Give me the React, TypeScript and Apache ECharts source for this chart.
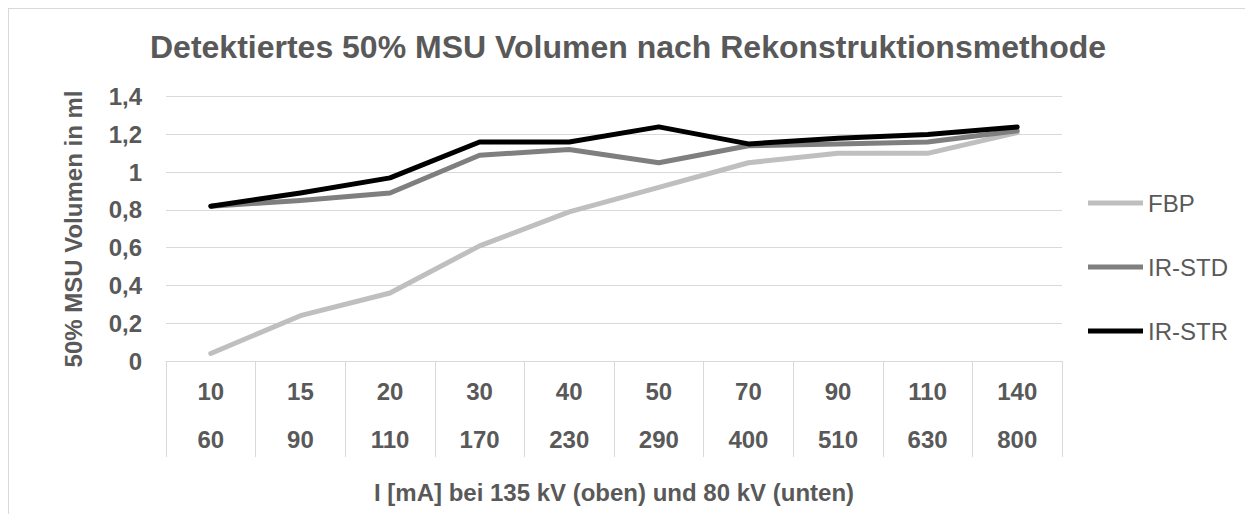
import React, { useEffect, useRef } from "react";
import * as echarts from "echarts";

const categoriesTop = ["10", "15", "20", "30", "40", "50", "70", "90", "110", "140"];
const categoriesBottom = ["60", "90", "110", "170", "230", "290", "400", "510", "630", "800"];
const fbp = [0.04, 0.24, 0.36, 0.61, 0.79, 0.92, 1.05, 1.1, 1.1, 1.21];
const irStd = [0.82, 0.85, 0.89, 1.09, 1.12, 1.05, 1.14, 1.15, 1.16, 1.22];
const irStr = [0.82, 0.89, 0.97, 1.16, 1.16, 1.24, 1.15, 1.18, 1.2, 1.24];
const seriesNames = ["FBP", "IR-STD", "IR-STR"];
const seriesColors = ["#BFBFBF", "#7F7F7F", "#000000"];

const titleText = "Detektiertes 50% MSU Volumen nach Rekonstruktionsmethode";
const yTitle = "50% MSU Volumen in ml";
const xTitle = "I [mA] bei 135 kV (oben) und 80 kV (unten)";

const FONT = "'Liberation Sans', Arial, Helvetica, sans-serif";
const TXT = "#595959";
const GRID = "#D9D9D9";

export default function App() {
  const ref = useRef<HTMLDivElement>(null);
  useEffect(() => {
    if (!ref.current) return;
    const chart = echarts.init(ref.current, undefined, { renderer: "svg" });
    const cats = categoriesTop.map((c, i) => c + "\n" + categoriesBottom[i]);
    const values = [fbp, irStd, irStr];
    chart.setOption({
      animation: false,
      textStyle: { fontFamily: FONT },
      grid: { left: 157, right: 183, top: 87.7, bottom: 153, containLabel: false },
      legend: {
        orient: "vertical",
        left: 1074,
        top: 177,
        icon: "rect",
        itemWidth: 55,
        itemHeight: 5,
        itemGap: 40,
        textStyle: { fontFamily: FONT, fontSize: 24, color: TXT },
        data: seriesNames,
      },
      xAxis: {
        type: "category",
        data: cats,
        boundaryGap: true,
        axisLine: { show: true, lineStyle: { color: GRID, width: 1 } },
        axisTick: { show: true, length: 96, interval: 0, lineStyle: { color: GRID, width: 1 } },
        axisLabel: {
          interval: 0,
          margin: 7,
          fontFamily: FONT,
          fontSize: 24,
          fontWeight: "bold",
          color: TXT,
          lineHeight: 47.5,
        },
        splitLine: { show: false },
      },
      yAxis: {
        type: "value",
        min: 0,
        max: 1.4,
        interval: 0.2,
        axisLine: { show: false },
        axisTick: { show: false },
        axisLabel: {
          margin: 24,
          fontFamily: FONT,
          fontSize: 24,
          fontWeight: "bold",
          color: TXT,
          formatter: (v: number) => String(Math.round(v * 10) / 10).replace(".", ","),
        },
        splitLine: { show: true, lineStyle: { color: GRID, width: 1 } },
      },
      series: values.map((d, i) => ({
        name: seriesNames[i],
        type: "line",
        data: d,
        symbol: "none",
        showSymbol: false,
        itemStyle: { color: seriesColors[i] },
        lineStyle: { color: seriesColors[i], width: 5, cap: "round", join: "round" },
        z: 2 + i,
      })),
      graphic: [
        {
          type: "text",
          x: 619,
          y: 37.8,
          style: {
            text: titleText,
            font: `bold 32px ${FONT}`,
            fill: TXT,
            textAlign: "center",
            textVerticalAlign: "middle",
          },
        },
        {
          type: "text",
          x: 64.6,
          y: 220,
          rotation: Math.PI / 2,
          style: {
            text: yTitle,
            font: `bold 24px ${FONT}`,
            fill: TXT,
            textAlign: "center",
            textVerticalAlign: "middle",
          },
        },
        {
          type: "text",
          x: 605,
          y: 483,
          style: {
            text: xTitle,
            font: `bold 24px ${FONT}`,
            fill: TXT,
            textAlign: "center",
            textVerticalAlign: "middle",
          },
        },
      ],
    });
    return () => chart.dispose();
  }, []);
  return (
    <div
      ref={ref}
      style={{
        width: 1236,
        height: 505,
        borderLeft: "1px solid #D9D9D9",
        borderTop: "1px solid #D9D9D9",
      }}
    />
  );
}
